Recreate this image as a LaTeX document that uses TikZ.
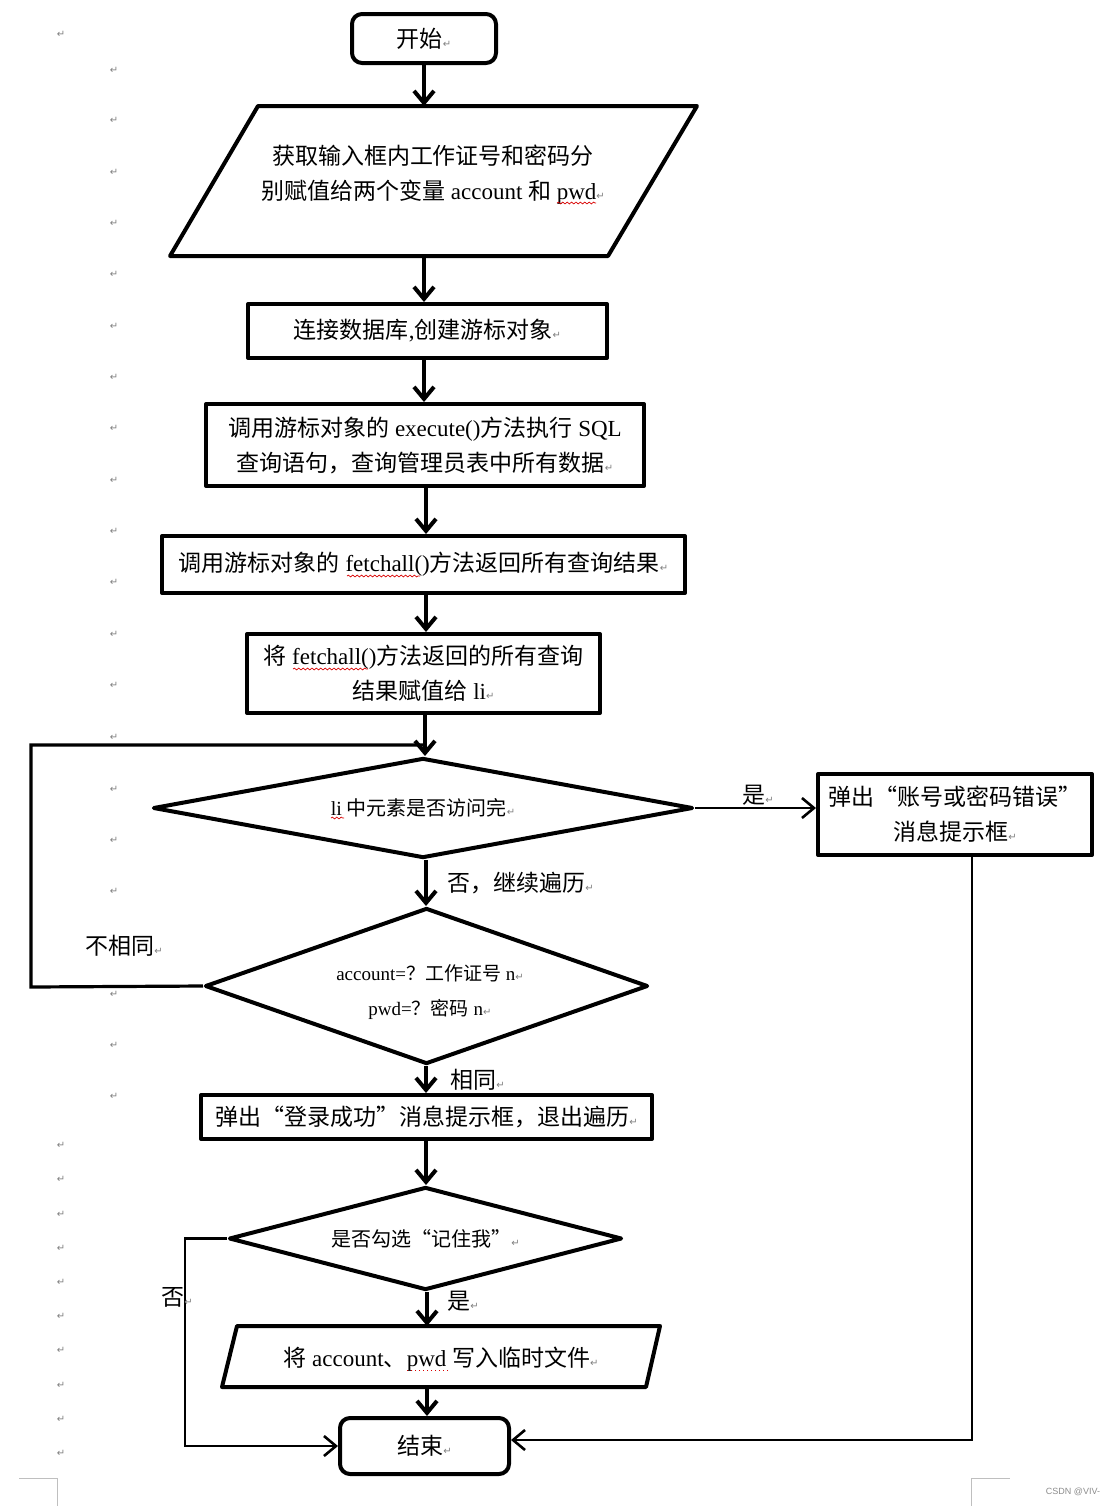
\documentclass[tikz,border=0pt]{standalone}
\usepackage{fontspec}
\setmainfont{Liberation Serif}
\newfontfamily\cjk{Noto Sans CJK SC}
\newfontfamily\dejavu{DejaVu Sans}
\newfontfamily\wmfont{Liberation Sans}
\usetikzlibrary{arrows.meta,shapes.geometric,decorations.pathmorphing}
\newcommand\E[1]{{\rmfamily #1}}
\newcommand\pmark{{\dejavu\fontsize{5}{5}\selectfont\textcolor{gray}{↵}}}
\tikzset{
  shp/.style={draw, line width=2pt, line join=round, inner sep=0pt, align=center,
    font=\cjk\fontsize{11.5}{17.5}\selectfont},
  term/.style={shp, rounded corners=5pt},
  proc/.style={shp},
  dec/.style={shp, diamond},
  txt/.style={inner sep=0pt, align=center, font=\cjk\fontsize{11.5}{17.5}\selectfont},
  lbl/.style={inner sep=0pt, anchor=west, font=\cjk\fontsize{11.5}{14}\selectfont},
  arr/.style={line width=2pt, -{Straight Barb[length=6pt,width=10pt,line width=2pt]}},
  arrthin/.style={line width=1.3pt, -{Straight Barb[length=6pt,width=10pt,line width=1.3pt]}},
  ln/.style={line width=1.6pt},
  mk/.style={inner sep=0pt, font=\dejavu\fontsize{5}{5}\selectfont, text=gray},
  crop/.style={draw=black!25, line width=0.5pt},
  wavy/.style={draw=red!85!black, line width=0.35pt, decorate, decoration={snake, amplitude=0.45pt, segment length=2.2pt}},
  dots/.style={draw=red!85!black, line width=0.5pt, dash pattern=on 0.5pt off 1.5pt}
}
\begin{document}
\begin{tikzpicture}[x=0.5pt,y=-0.5pt]
\useasboundingbox (0,0) rectangle (1117,1506);
\fill[white] (0,0) rectangle (1117,1506);

% ---- nodes ----
\node[term, minimum width=72pt, minimum height=24.5pt] (start) at (424,38.5) {开始\pmark};

\draw[shp] (258,106) -- (697,106) -- (608,256) -- (170,256) -- cycle;
\node[txt] (p1) at (433,175) {获取输入框内工作证号和密码分\\别赋值给两个变量\E{ account }和\E{ pwd}\pmark};
\coordinate (p1top) at (424,106);
\coordinate (p1bot) at (424,256);

\node[proc, minimum width=179.5pt, minimum height=27pt] (conn) at (427.5,331) {连接数据库\E{,}创建游标对象\pmark};
\node[proc, minimum width=219pt, minimum height=41pt] (exec) at (425,445) {调用游标对象的\E{ execute()}方法执行\E{ SQL}\\查询语句，查询管理员表中所有数据\pmark};
\node[proc, minimum width=261.5pt, minimum height=28.5pt] (fetch) at (423.5,564.5) {调用游标对象的\E{ fetchall()}方法返回所有查询结果\pmark};
\node[proc, minimum width=176.5pt, minimum height=39.5pt] (assign) at (423.5,673.5) {将\E{ fetchall()}方法返回的所有查询\\结果赋值给\E{ li}\pmark};

\node[dec, aspect=5.4, minimum width=270pt, minimum height=50pt, font=\cjk\fontsize{10}{14}\selectfont] (d1) at (423,808) {\E{li }中元素是否访问完\pmark};
\node[proc, minimum width=137pt, minimum height=40.5pt] (err) at (955,814.5) {弹出“账号或密码错误”\\消息提示框\pmark};

\node[dec, aspect=2.84, minimum width=221.5pt, minimum height=78pt] (d2) at (426.5,986) {};
\node[txt, font=\cjk\fontsize{9.5}{17.5}\selectfont] (d2t) at (430,992) {\E{account=}？工作证号\E{ n}\pmark\\\E{pwd=}？密码\E{ n}\pmark};

\node[proc, minimum width=225.5pt, minimum height=22pt] (succ) at (426.5,1117) {弹出“登录成功”消息提示框，退出遍历\pmark};

\node[dec, aspect=3.8, minimum width=196.5pt, minimum height=51.5pt, font=\cjk\fontsize{10}{14}\selectfont] (d3) at (425.5,1238.5) {是否勾选“记住我”\pmark};

\draw[shp] (237,1326) -- (660,1326) -- (646,1387) -- (222,1387) -- cycle;
\node[txt] (p2) at (441,1359) {将\E{ account}、\E{pwd }写入临时文件\pmark};
\coordinate (p2top) at (427,1326);
\coordinate (p2bot) at (427,1387);

\node[term, minimum width=84.5pt, minimum height=28pt] (end) at (424.5,1446) {结束\pmark};

% ---- spell-check underlines ----
\draw[wavy] (557,203) -- (596,203);
\draw[wavy] (347,576) -- (420,576);
\draw[wavy] (293,669) -- (368,669);
\draw[wavy] (331,818) -- (344,818);
\draw[dots] (407,1370) -- (448,1370);

% ---- connectors ----
\draw[arr] (start.south -| p1top) -- (p1top);
\draw[arr] (p1bot) -- (p1bot |- conn.north);
\draw[arr] (conn.south -| 424,0) -- (exec.north -| 424,0);
\draw[arr] (exec.south -| 426,0) -- (fetch.north -| 426,0);
\draw[arr] (fetch.south -| 426,0) -- (assign.north -| 426,0);
\draw[arr] (assign.south -| 425,0) -- (d1.north -| 425,0);
\coordinate (loopend) at (425,745);
\draw[ln] (d2.west) -- (31,987) -- (31,745) -- (loopend);
\draw[arrthin] (d1.east) -- (d1.east -| err.west);
\draw[arr] (d1.south -| 426,0) -- (d2.north -| 426,0);
\draw[arr] (d2.south -| 426,0) -- (succ.north -| 426,0);
\draw[arr] (succ.south -| 426,0) -- (d3.north -| 426,0);
\draw[arr] (d3.south -| 427,0) -- (p2top);
\draw[arr] (p2bot) -- (end.north -| p2bot);
\draw[arrthin] (err.south -| 972,0) |- ([yshift=3pt]end.east);
\draw[arrthin] (d3.west) -- (185,1238.5) |- (end.west);

% ---- labels ----
\node[lbl] (lyes1) at (742,795) {是\pmark};
\node[lbl] (lno1) at (447,883) {否，继续遍历\pmark};
\node[lbl] (ldiff) at (85,946) {不相同\pmark};
\node[lbl] (lsame) at (450,1080) {相同\pmark};
\node[lbl] (lno2) at (161,1297) {否\pmark};
\node[lbl] (lyes2) at (447,1301) {是\pmark};

% ---- margin paragraph marks ----
\node[mk] at (61,34) {↵};
\foreach \yy in {70,120,172,223,274,326,377,428,480,531,582,634,685,737,789,840,891,994,1045,1096}
  \node[mk] at (114,\yy) {↵};
\foreach \yy in {1145,1179,1214,1248,1282,1316,1350,1385,1419,1453}
  \node[mk] at (61,\yy) {↵};

% ---- page crop marks & watermark ----
\draw[crop] (19,1478) -- (57,1478) -- (57,1506);
\draw[crop] (971,1506) -- (971,1478) -- (1010,1478);
\node[inner sep=0pt, text=black!45, font=\wmfont\fontsize{4.5}{5}\selectfont] (wm) at (1073,1492) {CSDN @VIV-};
\end{tikzpicture}
\end{document}
